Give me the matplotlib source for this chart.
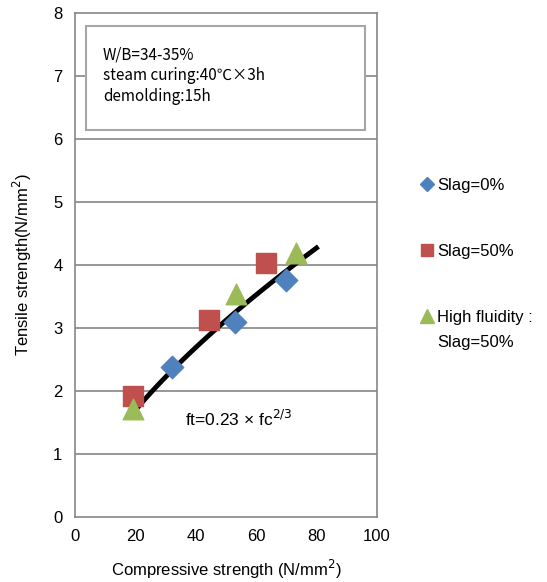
import numpy as np
import matplotlib
matplotlib.use("Agg")
import matplotlib.pyplot as plt
from matplotlib.lines import Line2D
from matplotlib.patches import Rectangle

plt.rcParams['font.family'] = ['Liberation Sans', 'Noto Sans CJK JP', 'DejaVu Sans']

slag0_x = [32.1, 53.0, 69.9]
slag0_y = [2.38, 3.10, 3.76]
slag50_x = [19.2, 44.4, 63.2]
slag50_y = [1.92, 3.13, 4.03]
hf_x = [19.2, 53.3, 73.2]
hf_y = [1.72, 3.54, 4.19]
coef = 0.23
curve_range = [20, 80]

labels = ['Slag=0%', 'Slag=50%', 'High fluidity :']
label_extra = 'Slag=50%'
colors = ['#4F81BD', '#C0504D', '#9BBB59']
xticks = [0, 20, 40, 60, 80, 100]
yticks = [0, 1, 2, 3, 4, 5, 6, 7, 8]

fig = plt.figure(figsize=(5.47, 5.82), dpi=100)
ax = fig.add_axes([0.137, 0.1117, 0.552, 0.866])
ax.set_xlim(0, 100)
ax.set_ylim(0, 8)
ax.set_xticks(xticks)
ax.set_yticks(yticks)
ax.tick_params(length=0, labelsize=12, pad=9)
for s in ax.spines.values():
    s.set_color('#868686')
    s.set_linewidth(1.2)
for y in yticks[1:-1]:
    ax.axhline(y, color='#868686', lw=1.2, zorder=0)

fc = np.linspace(curve_range[0], curve_range[1], 100)
ax.plot(fc, coef * fc ** (2 / 3), color='black', lw=3.5, zorder=2)

ax.scatter(slag0_x, slag0_y, marker='D', s=130, color=colors[0], zorder=3)
ax.scatter(slag50_x, slag50_y, marker='s', s=210, color=colors[1], zorder=3)
ax.scatter(hf_x, hf_y, marker='^', s=220, color=colors[2], zorder=4)

ax.text(36.3, 1.56, 'ft=0.23 × fc$^{2/3}$', fontsize=12.5, va='center')

# annotation box
ax.add_patch(Rectangle((3.6, 6.14), 92.4, 1.65, facecolor='white',
                       edgecolor='#A6A6A6', lw=1.5, zorder=5))
ax.text(9.3, 7.47, 'W/B=34-35%\nsteam curing:40℃×3h\ndemolding:15h',
        fontsize=11, va='top', ha='left', linespacing=1.3, zorder=6,
        family=['Noto Sans CJK JP', 'DejaVu Sans'])

ax.set_xlabel('Compressive strength (N/mm$^2$)', fontsize=12, labelpad=10)
ax.set_ylabel('Tensile strength(N/mm$^2$)', fontsize=12, labelpad=14)

handles = [
    Line2D([], [], marker='D', ls='', color=colors[0], markersize=7),
    Line2D([], [], marker='s', ls='', color=colors[1], markersize=9),
    Line2D([], [], marker='^', ls='', color=colors[2], markersize=10),
]
leg = fig.legend(handles, labels, loc='upper left', bbox_to_anchor=(0.735, 0.72),
                 frameon=False, fontsize=12, handletextpad=0.0, labelspacing=3.05,
                 handlelength=1.2)
fig.text(437 / 547, 1 - 342 / 582, label_extra, fontsize=12, va='center', ha='left')

fig.savefig('out.png', dpi=100)
